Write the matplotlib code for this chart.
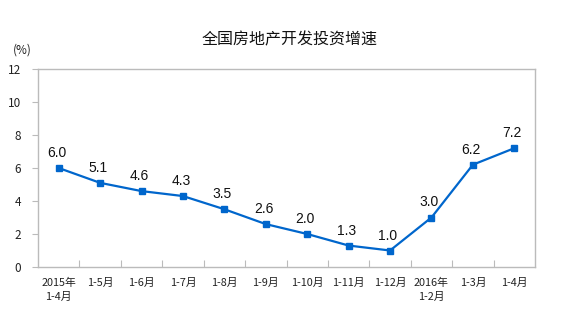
import matplotlib
matplotlib.use("Agg")
import matplotlib.pyplot as plt

plt.rcParams['font.family'] = ['Noto Sans CJK SC', 'DejaVu Sans']

categories = ["2015年\n1-4月", "1-5月", "1-6月", "1-7月", "1-8月", "1-9月", "1-10月",
              "1-11月", "1-12月", "2016年\n1-2月", "1-3月", "1-4月"]
values = [6.0, 5.1, 4.6, 4.3, 3.5, 2.6, 2.0, 1.3, 1.0, 3.0, 6.2, 7.2]
yticks = [0, 2, 4, 6, 8, 10, 12]
title = "全国房地产开发投资增速"
unit = "(%)"

W, H = 571, 324
fig = plt.figure(figsize=(W / 100, H / 100), dpi=100)
ax = fig.add_axes([38 / W, 1 - 267 / H, (535 - 38) / W, (267 - 69) / H])

x = list(range(len(categories)))
color = '#0066CC'
ax.plot(x, values, color=color, lw=1.6, marker='s', markersize=5, zorder=3)

for xi, v in zip(x, values):
    ax.annotate(f"{v:.1f}", (xi, v), xytext=(-2, 8), textcoords='offset pixels',
                ha='center', va='bottom', fontsize=10, color='#111111',
                family=['Liberation Sans'])

ax.set_xlim(-0.5, len(categories) - 0.5)
ax.set_ylim(0, 12)
ax.set_yticks(yticks)
ax.set_yticklabels([str(t) for t in yticks], fontsize=8.5, color='#222222')
ax.tick_params(axis='y', direction='out', length=4, color='#BBBBBB', pad=8)

ax.set_xticks([i + 0.5 for i in range(len(categories) - 1)])
ax.set_xticklabels([])
ax.set_xticks(x, minor=True)
ax.set_xticklabels(categories, minor=True, fontsize=7.8, color='#222222', linespacing=1.45)
ax.tick_params(axis='x', which='major', direction='in', length=5, color='#BBBBBB')
ax.tick_params(axis='x', which='minor', length=0, pad=8)

for s in ax.spines.values():
    s.set_color('#BBBBBB')
    s.set_linewidth(1.0)

fig.text(290 / W, 1 - 40 / H, title, ha='center', va='center', fontsize=11.5,
         color='#111111', fontweight='medium')
fig.text(22 / W, 1 - 50 / H, unit, ha='center', va='center', fontsize=8.5, color='#222222')

fig.savefig("out.png", dpi=100)
